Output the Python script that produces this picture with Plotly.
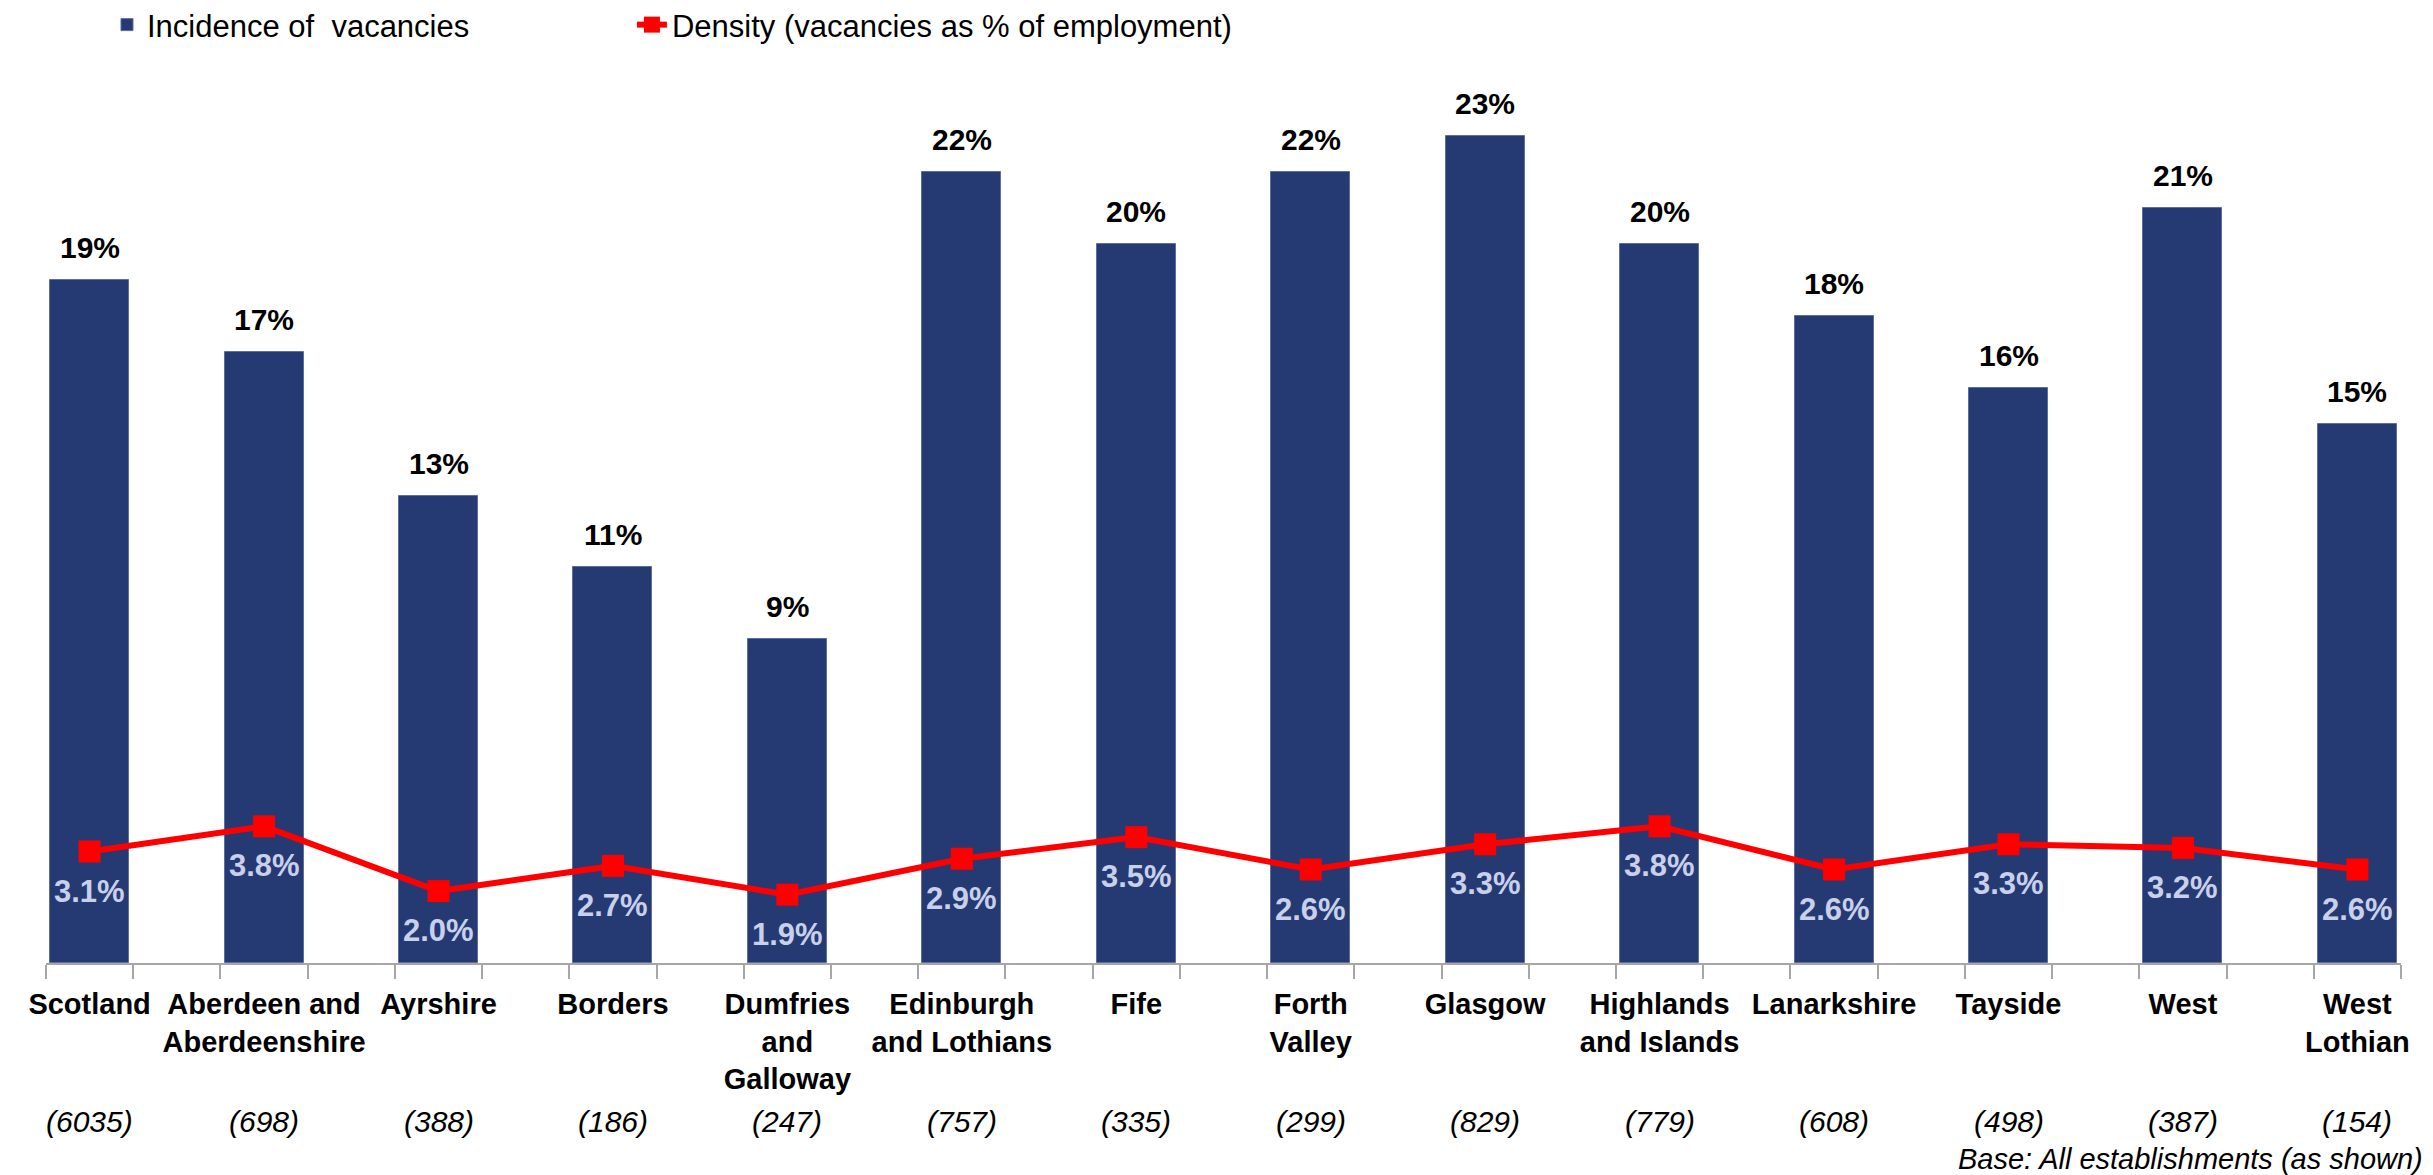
import plotly.graph_objects as go

# ---- data ----
categories = [
    "Scotland", "Aberdeen and<br>Aberdeenshire", "Ayrshire", "Borders",
    "Dumfries<br>and<br>Galloway", "Edinburgh<br>and Lothians", "Fife",
    "Forth<br>Valley", "Glasgow", "Highlands<br>and Islands", "Lanarkshire",
    "Tayside", "West", "West<br>Lothian",
]
bases = [6035, 698, 388, 186, 247, 757, 335, 299, 829, 779, 608, 498, 387, 154]
incidence = [19, 17, 13, 11, 9, 22, 20, 22, 23, 20, 18, 16, 21, 15]
density = [3.1, 3.8, 2.0, 2.7, 1.9, 2.9, 3.5, 2.6, 3.3, 3.8, 2.6, 3.3, 3.2, 2.6]

FONT = "Liberation Sans, Arial, sans-serif"
BAR_COLOR = "#253a73"
LINE_COLOR = "#ff0000"
AXIS_GREY = "#a6a6a6"

xpos = list(range(len(categories)))

fig = go.Figure()

fig.add_trace(go.Bar(
    x=xpos, y=incidence, width=0.453,
    marker=dict(color=BAR_COLOR, line=dict(color="#5c6d9e", width=1)),
    name="Incidence of \u00a0vacancies",
    xaxis="x", yaxis="y", legend="legend",
    hoverinfo="skip",
))

fig.add_trace(go.Scatter(
    x=xpos, y=density, mode="lines+markers",
    line=dict(color=LINE_COLOR, width=6),
    marker=dict(symbol="square", size=22, color=LINE_COLOR),
    name="Density (vacancies as % of employment)",
    xaxis="x2", yaxis="y", legend="legend2",
    hoverinfo="skip",
))

# bar value labels
for xi, v in zip(xpos, incidence):
    fig.add_annotation(
        x=xi, y=v, xref="x", yref="y", text=f"{v}%", showarrow=False,
        yanchor="bottom", yshift=14,
        font=dict(family=FONT, size=30, color="black", weight="bold"),
    )

# density value labels (below markers)
for xi, v in zip(xpos, density):
    fig.add_annotation(
        x=xi, y=v, xref="x", yref="y", text=f"{v:.1f}%", showarrow=False,
        yanchor="top", yshift=-20,
        font=dict(family=FONT, size=31, color="#c8d0ec", weight="bold"),
    )

# base counts
for xi, b in zip(xpos, bases):
    fig.add_annotation(
        x=xi, y=-0.176, xref="x", yref="paper", text=f"({b})", showarrow=False,
        yanchor="middle",
        font=dict(family=FONT, size=30, color="black", style="italic"),
    )

fig.add_annotation(
    x=1.0102, y=-0.218, xref="paper", yref="paper",
    text="Base: All establishments (as shown)", showarrow=False,
    xanchor="right", yanchor="middle",
    font=dict(family=FONT, size=29, color="black", style="italic"),
)

xr = [-0.25, len(categories) - 0.75]

fig.update_layout(
    width=2433, height=1175,
    margin=dict(l=46, r=32, t=64, b=212, autoexpand=False),
    paper_bgcolor="white", plot_bgcolor="white",
    font=dict(family=FONT, color="black"),
    bargap=0,
    xaxis=dict(
        range=xr, tickmode="linear", tick0=-0.25, dtick=0.5,
        ticks="outside", ticklen=14, tickwidth=2, tickcolor=AXIS_GREY,
        showticklabels=False, showline=True, linecolor=AXIS_GREY, linewidth=2,
        showgrid=False, zeroline=False, fixedrange=True,
    ),
    xaxis2=dict(
        range=xr, overlaying="x", side="bottom",
        tickmode="array", tickvals=xpos, ticktext=categories,
        ticks="", showline=False, showgrid=False, zeroline=False,
        tickfont=dict(family=FONT, size=29, color="black", weight="bold"),
        ticklabelstandoff=21, tickangle=0,
    ),
    yaxis=dict(
        range=[0, 25], visible=False, showgrid=False, zeroline=False,
    ),
    legend=dict(
        orientation="h", x=0.0259, y=1.0434, xanchor="left", yanchor="middle",
        font=dict(family=FONT, size=31, color="black"),
        bgcolor="rgba(0,0,0,0)",
    ),
    legend2=dict(
        orientation="h", x=0.2488, y=1.0434, xanchor="left", yanchor="middle",
        font=dict(family=FONT, size=31, color="black"),
        bgcolor="rgba(0,0,0,0)",
    ),
    showlegend=True,
)

fig.write_html(
    "out.html",
    config={"displayModeBar": False},
    post_script="document.body.style.margin='0';",
)
